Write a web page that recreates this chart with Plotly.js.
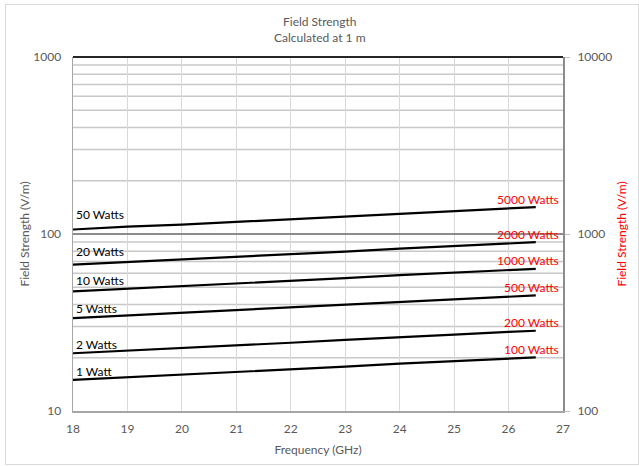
<!DOCTYPE html>
<html>
<head>
<meta charset="utf-8">
<script src="https://cdn.plot.ly/plotly-3.0.1.min.js"></script>
<style>
  html, body { margin: 0; padding: 0; background: #fff; }
  #wrap { position: relative; width: 639px; height: 466px; }
  #chart { width: 639px; height: 466px; }
  #frame { position: absolute; left: 5px; top: 4px; width: 632px; height: 459px;
           border: 1px solid #d9d9d9; pointer-events: none; }
</style>
</head>
<body>
<div id="wrap"><div id="chart"></div><div id="frame"></div></div>
<script>
// Frequencies (GHz)
const freq = [18, 19, 20, 21, 22, 23, 24, 25, 26, 26.5];

// Field strength at 1 m (V/m) for each transmit power
const w1  = [15.0, 15.5, 16.0, 16.6, 17.2, 17.8, 18.5, 19.1, 19.8, 20.1];
const w2  = [21.2, 21.9, 22.6, 23.5, 24.3, 25.2, 26.2, 27.0, 28.0, 28.4];
const w5  = [33.5, 34.7, 35.8, 37.1, 38.5, 39.8, 41.4, 42.7, 44.3, 45.0];
const w10 = [47.4, 49.0, 50.6, 52.5, 54.4, 56.3, 58.5, 60.4, 62.6, 63.6];
const w20 = [67.1, 69.3, 71.6, 74.2, 76.9, 79.6, 82.7, 85.4, 88.5, 89.9];
const w50 = [106, 110, 113, 117, 122, 126, 131, 135, 140, 142];

// Labels: left axis powers and right axis (x100) powers
const leftLabels  = ["1 Watt", "2 Watts", "5 Watts", "10 Watts", "20 Watts", "50 Watts"];
const rightLabels = ["100 Watts", "200 Watts", "500 Watts", "1000 Watts", "2000 Watts", "5000 Watts"];

// Tick labels and gridline values
const xTicks = [18, 19, 20, 21, 22, 23, 24, 25, 26, 27];
const yTicks = [10, 100, 1000];
const y2Ticks = [100, 1000, 10000];
const yMinor = [20, 30, 40, 50, 60, 70, 80, 90, 200, 300, 400, 500, 600, 700, 800, 900];

const series = [w1, w2, w5, w10, w20, w50];
const leftShift = [8, 9, 10, 11, 13, 15];

const FONT = "Lato, 'Open Sans', sans-serif";
const GREY = "#595959";
const RED = "#ff0000";
const Y_LOG_MIN = 1, Y_LOG_MAX = 3;

const traces = series.map((s, i) => ({
  x: freq, y: s, type: "scatter", mode: "lines",
  line: { color: "#000000", width: 2.2 },
  name: leftLabels[i], showlegend: false, hoverinfo: "x+y"
}));
traces.push({ x: [], y: [], yaxis: "y2", type: "scatter", mode: "lines", showlegend: false, hoverinfo: "skip" });

const annotations = [];
series.forEach((s, i) => {
  annotations.push({
    xref: "x", yref: "y", x: freq[0], y: Math.log10(s[0]),
    text: leftLabels[i], showarrow: false, xanchor: "left", yanchor: "middle",
    xshift: 1, yshift: leftShift[i], font: { family: FONT, size: 12, color: "#000000" }
  });
  annotations.push({
    xref: "paper", yref: "y", x: 1, y: Math.log10(s[s.length - 1]),
    text: rightLabels[i], showarrow: false, xanchor: "right", yanchor: "middle",
    xshift: -2, yshift: 8, font: { family: FONT, size: 12, color: RED }
  });
});
// Chart title (two lines)
annotations.push({
  xref: "paper", yref: "paper", x: 0.505, y: 1 + 28 / 354, xanchor: "center", yanchor: "middle",
  text: "Field Strength<br>Calculated at 1 m", showarrow: false,
  font: { family: FONT, size: 12, color: GREY }
});

// Minor horizontal gridlines (positioned as fraction of the log axis height)
const shapes = yMinor.map(v => {
  const f = (Math.log10(v) - Y_LOG_MIN) / (Y_LOG_MAX - Y_LOG_MIN);
  return { type: "line", layer: "below", xref: "paper", yref: "paper", x0: 0, x1: 1,
           y0: f, y1: f, line: { color: "#c8c8c8", width: 1.5 } };
});
shapes.push({ type: "line", xref: "paper", yref: "paper", x0: 0, x1: 1, y0: 1, y1: 1,
  line: { color: "#262626", width: 2 } });

const layout = {
  width: 639, height: 466,
  margin: { l: 73, r: 76, t: 57, b: 55 },
  paper_bgcolor: "#ffffff", plot_bgcolor: "#ffffff",
  font: { family: FONT, size: 12, color: GREY },
  xaxis: {
    range: [18, 27], tickmode: "array", tickvals: xTicks, ticktext: xTicks.map(String),
    showgrid: true, gridcolor: "#d9d9d9", gridwidth: 1,
    showline: true, linecolor: "#a6a6a6", linewidth: 1.5,
    ticks: "", zeroline: false, ticklabelstandoff: 6,
    tickfont: { family: FONT, size: 12, color: GREY },
    title: { text: "Frequency (GHz)", font: { family: FONT, size: 12, color: GREY }, standoff: 10 }
  },
  yaxis: {
    type: "log", range: [Y_LOG_MIN, Y_LOG_MAX], tickmode: "array", tickvals: yTicks, ticktext: yTicks.map(String),
    showgrid: true, gridcolor: "#8c8c8c", gridwidth: 2,
    showline: true, linecolor: "#a6a6a6", linewidth: 1.5,
    ticks: "", zeroline: false, ticklabelstandoff: 8,
    tickfont: { family: FONT, size: 12, color: GREY },
    title: { text: "Field Strength (V/m)", font: { family: FONT, size: 12, color: GREY }, standoff: 1 }
  },
  yaxis2: {
    type: "log", range: [2, 4], overlaying: "y", side: "right",
    tickmode: "array", tickvals: y2Ticks, ticktext: y2Ticks.map(String),
    showgrid: false, showline: true, linecolor: "#8c8c8c", linewidth: 2,
    ticks: "outside", ticklen: 5, tickcolor: "#bfbfbf", tickwidth: 1,
    zeroline: false, ticklabelstandoff: 5,
    tickfont: { family: FONT, size: 12, color: GREY },
    title: { text: "Field Strength (V/m)", font: { family: FONT, size: 12, color: RED }, standoff: 6 }
  },
  shapes: shapes,
  annotations: annotations
};

Plotly.newPlot("chart", traces, layout, { displayModeBar: false, staticPlot: true });
</script>
</body>
</html>
